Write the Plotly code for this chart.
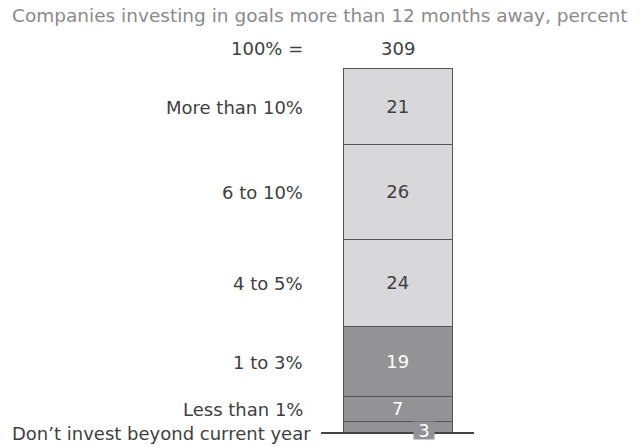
import plotly.graph_objects as go

# ---- data ----
categories = ["Don’t invest beyond current year", "Less than 1%", "1 to 3%",
              "4 to 5%", "6 to 10%", "More than 10%"]
values = [3, 7, 19, 24, 26, 21]
total_n = 309
title = "Companies investing in goals more than 12 months away, percent"

# ---- styles ----
W, H = 640, 447
FONT = "DejaVu Sans"
LIGHT = "#d8d8da"
DARK = "#939396"
EDGE = "#555557"
TXT = "#404042"
seg_colors = [DARK, DARK, DARK, LIGHT, LIGHT, LIGHT]
txt_colors = ["#ffffff", "#ffffff", "#ffffff", TXT, TXT, TXT]

bar_x, bar_w = 398.25, 109.5
y0_px, scale = 433.0, 3.64  # pixel of value 0, pixels per unit
yr = [(y0_px - H) / scale, y0_px / scale]

fig = go.Figure()
for i, (cat, v) in enumerate(zip(categories, values)):
    fig.add_trace(go.Bar(
        x=[bar_x], y=[v], width=[bar_w], name=cat,
        marker=dict(color=seg_colors[i], line=dict(color=EDGE, width=1.5)),
        text=[str(v) if i > 0 else ""], textposition="inside",
        insidetextanchor="middle", textangle=0, constraintext="none",
        textfont=dict(family=FONT, size=18, color=txt_colors[i]),
        hoverinfo="skip", showlegend=False,
    ))

annotations = []
cum = 0
for i, (cat, v) in enumerate(zip(categories, values)):
    mid = cum + v / 2
    cum += v
    if i == 0:
        annotations.append(dict(x=313, y=0, xref="x", yref="y", text=cat,
                                xanchor="right", yanchor="middle", showarrow=False,
                                font=dict(family=FONT, size=18, color=TXT)))
        annotations.append(dict(x=424, y=0.8, xref="x", yref="y", text=str(v),
                                xanchor="center", yanchor="middle", showarrow=False,
                                bgcolor=DARK, borderpad=0, width=20, height=17,
                                font=dict(family=FONT, size=18, color="#ffffff")))
    else:
        annotations.append(dict(x=305, y=mid, xref="x", yref="y", text=cat,
                                xanchor="right", yanchor="middle", showarrow=False,
                                font=dict(family=FONT, size=18, color=TXT)))

annotations.append(dict(x=320, y=1 - 16 / H, xref="x", yref="paper", text=title,
                        xanchor="center", yanchor="middle", showarrow=False,
                        font=dict(family=FONT, size=18.5, color="#8a8a8c")))
annotations.append(dict(x=305, y=1 - 49 / H, xref="x", yref="paper", text="100% =",
                        xanchor="right", yanchor="middle", showarrow=False,
                        font=dict(family=FONT, size=18, color=TXT)))
annotations.append(dict(x=bar_x, y=1 - 49 / H, xref="x", yref="paper", text=str(total_n),
                        xanchor="center", yanchor="middle", showarrow=False,
                        font=dict(family=FONT, size=18, color=TXT)))

fig.add_shape(type="line", x0=321, x1=474, y0=0, y1=0, xref="x", yref="y",
              line=dict(color="#444446", width=2), layer="above")

fig.update_layout(
    width=W, height=H, margin=dict(l=0, r=0, t=0, b=0),
    paper_bgcolor="white", plot_bgcolor="white",
    barmode="stack", bargap=0,
    xaxis=dict(range=[0, W], visible=False, fixedrange=True),
    yaxis=dict(range=yr, visible=False, fixedrange=True),
    annotations=annotations,
    uniformtext=dict(mode=False),
)

fig.write_html("out.html")
